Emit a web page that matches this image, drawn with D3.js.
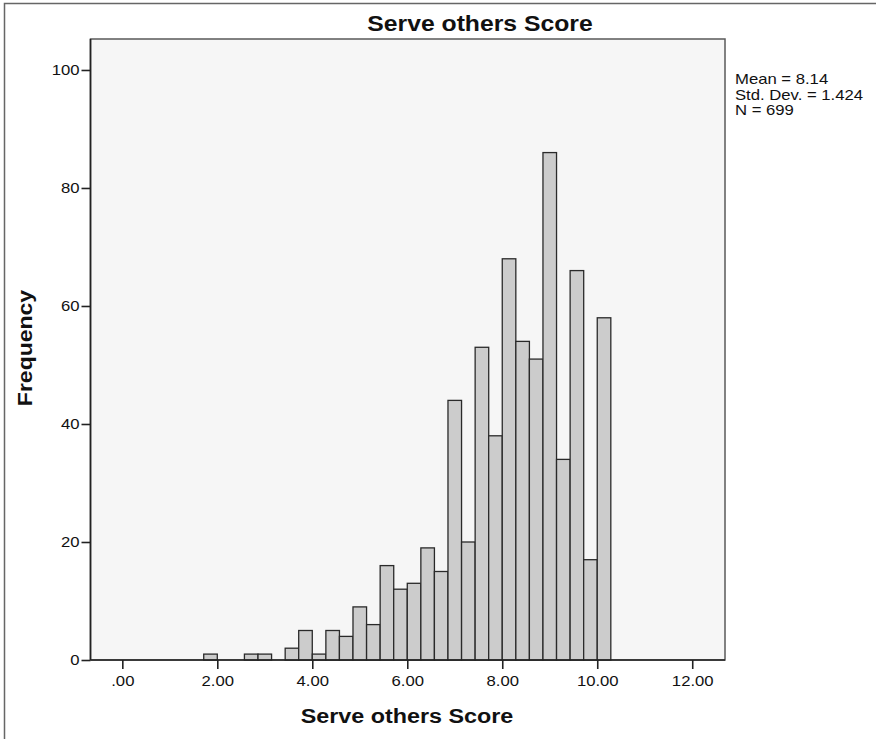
<!DOCTYPE html>
<html>
<head lang="en">
    <meta charset="UTF-8">
    <title>Serve others Score</title>
    <style>
        body { margin: 0; background: #fff; }
        svg { font-family: "Liberation Sans", Arial, sans-serif; display: block; }
    </style>
</head>
<body>
    <svg id="chart" width="876" height="739"></svg>
</body>
<script src="https://cdn.jsdelivr.net/npm/d3@7"></script>
<script>

    // histogram bins (lower edge of each bin) and frequencies
    let binStarts = [1.714, 2.571, 2.857, 3.429, 3.714, 4.000, 4.286, 4.571, 4.857,
                     5.143, 5.429, 5.714, 6.000, 6.286, 6.571, 6.857, 7.143, 7.429,
                     7.714, 8.000, 8.286, 8.571, 8.857, 9.143, 9.429, 9.714, 10.000];
    let counts = [1, 1, 1, 2, 5, 1, 5, 4, 9,
                  6, 16, 12, 13, 19, 15, 44, 20, 53,
                  38, 68, 54, 51, 86, 34, 66, 17, 58];
    let binWidth = 2 / 7;

    let xTicks = [0, 2, 4, 6, 8, 10, 12];
    let yTicks = [0, 20, 40, 60, 80, 100];
    let stats = ["Mean = 8.14", "Std. Dev. = 1.424", "N = 699"];

    let plot = {left: 90.5, top: 39, right: 725, bottom: 660};
    let stretch = 1.15;

    let svg = d3.select('#chart');

    // stretch text horizontally like the SPSS export
    let widen = (sel, k) => {
        sel.each(function() {
            let w = this.getComputedTextLength();
            d3.select(this)
              .attr("textLength", w * k)
              .attr("lengthAdjust", "spacingAndGlyphs");
        });
    };

    // outer frame (left and top edges only visible)
    svg.append("path")
      .attr("d", "M4.5,739V3.5H876")
      .attr("fill", "none")
      .attr("stroke", "#666")
      .attr("stroke-width", 1.5);

    let x = d3.scaleLinear()
            .domain([-0.67, 12.69])
            .range([plot.left, plot.right]);

    let y = d3.scaleLinear()
            .domain([0, 105.25])
            .range([plot.bottom, plot.top]);

    // plot background
    svg.append("rect")
      .attr("x", plot.left)
      .attr("y", plot.top)
      .attr("width", plot.right - plot.left)
      .attr("height", plot.bottom - plot.top)
      .attr("fill", "#f6f6f6")
      .attr("stroke", "#5a5a5a")
      .attr("stroke-width", 1.5);

    // bars
    svg.append("g")
      .selectAll("rect")
      .data(counts)
      .enter()
      .append("rect")
      .attr("x", (d, i) => x(binStarts[i]))
      .attr("y", d => y(d))
      .attr("width", (d, i) => x(binStarts[i] + binWidth) - x(binStarts[i]))
      .attr("height", d => y(0) - y(d))
      .attr("fill", "#cccccc")
      .attr("stroke", "#2a2a2a")
      .attr("stroke-width", 1.3);

    // axes
    let fmt = d => d === 0 ? ".00" : d3.format(".2f")(d);

    let xAxis = svg.append("g")
      .attr("transform", "translate(0," + plot.bottom + ")")
      .call(d3.axisBottom(x).tickValues(xTicks).tickFormat(fmt).tickSize(9).tickPadding(7).tickSizeOuter(0));

    let yAxis = svg.append("g")
      .attr("transform", "translate(" + plot.left + ",0)")
      .call(d3.axisLeft(y).tickValues(yTicks).tickSize(9).tickPadding(2).tickSizeOuter(0));

    [xAxis, yAxis].forEach(a => {
        a.select(".domain").attr("stroke", "#222").attr("stroke-width", 1.6);
        a.selectAll(".tick line").attr("stroke", "#222").attr("stroke-width", 1.6);
        a.selectAll(".tick text")
          .attr("fill", "#111")
          .style("font-size", "14.5px");
    });
    xAxis.select(".domain").attr("d", "M" + plot.left + ",0H" + plot.right);
    yAxis.select(".domain").attr("d", "M0," + plot.top + "V" + plot.bottom);
    xAxis.selectAll(".tick text").call(widen, stretch);
    yAxis.selectAll(".tick text").call(widen, stretch);

    // titles
    svg.append("text")
      .attr("x", 480)
      .attr("y", 30.5)
      .attr("text-anchor", "middle")
      .style("font-size", "21.5px")
      .style("font-weight", "bold")
      .attr("fill", "#111")
      .text("Serve others Score")
      .call(widen, stretch);

    svg.append("text")
      .attr("x", 407)
      .attr("y", 723)
      .attr("text-anchor", "middle")
      .style("font-size", "20.3px")
      .style("font-weight", "bold")
      .attr("fill", "#111")
      .text("Serve others Score")
      .call(widen, stretch);

    svg.append("text")
      .attr("transform", "translate(32,348) rotate(-90)")
      .attr("text-anchor", "middle")
      .style("font-size", "20px")
      .style("font-weight", "bold")
      .attr("fill", "#111")
      .text("Frequency")
      .call(widen, stretch);

    // summary statistics
    svg.append("g")
      .selectAll("text")
      .data(stats)
      .enter()
      .append("text")
      .attr("x", 735)
      .attr("y", (d, i) => 84 + i * 15.7)
      .style("font-size", "14.5px")
      .attr("fill", "#111")
      .text(d => d)
      .call(widen, stretch);

</script>
</html>
